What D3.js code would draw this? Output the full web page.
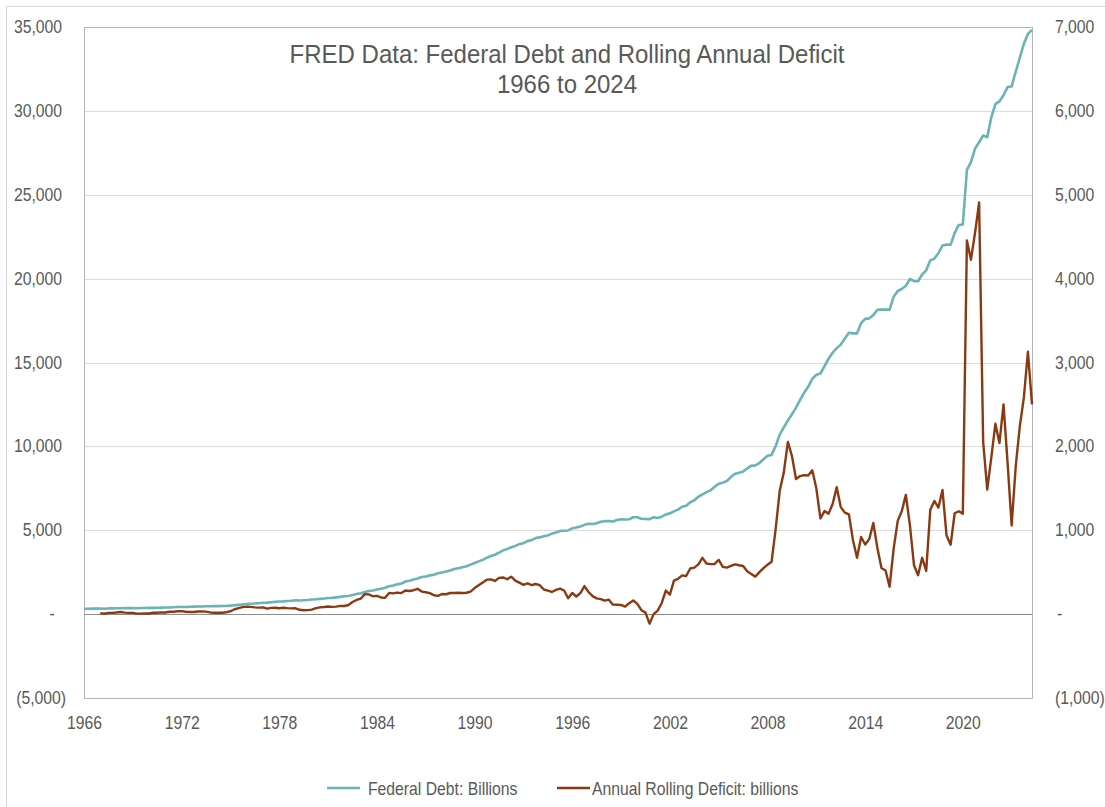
<!DOCTYPE html>
<html>
<head>
<meta charset="utf-8">
<script src="https://cdn.jsdelivr.net/npm/d3@7"></script>
<style>
body{margin:0;background:#fff;}
text{font-family:"Liberation Sans",Arial,sans-serif;fill:#595959;}
</style>
</head>
<body>
<svg id="chart" width="1105" height="807"></svg>
<script>
// quarterly values, debt from 1966 Q1, deficit from 1967 Q1 (billions)
var debtStart = 1966;
var debt = [
  320, 318, 325, 330,   330, 322, 340, 345,   350, 348, 358, 360,   365, 354, 364, 368,
  372, 370, 381, 389,   391, 398, 410, 424,   427, 427, 436, 449,   458, 458, 466, 469,
  475, 475, 483, 492,   509, 533, 554, 576,   599, 620, 635, 653,   680, 685, 709, 729,
  750, 761, 780, 797,   820, 813, 827, 845,   873, 884, 908, 930,   964, 971, 998, 1028,
  1061, 1080, 1142, 1197,   1245, 1318, 1377, 1410,   1463, 1517, 1572, 1663,   1710, 1774, 1823, 1945,
  1986, 2059, 2125, 2214,   2247, 2310, 2350, 2432,   2487, 2547, 2602, 2684,   2741, 2799, 2857, 2953,
  3052, 3143, 3233, 3364,   3465, 3538, 3665, 3801,   3881, 3984, 4065, 4177,   4230, 4352, 4411, 4536,
  4575, 4646, 4692, 4800,   4864, 4951, 4974, 4989,   5117, 5161, 5225, 5323,   5381, 5376, 5413, 5502,
  5542, 5548, 5526, 5614,   5651, 5638, 5656, 5776,   5773, 5685, 5674, 5662,   5773, 5727, 5807, 5943,
  6006, 6126, 6228, 6405,   6460, 6670, 6783, 6998,   7131, 7274, 7379, 7596,   7777, 7837, 7933, 8170,
  8371, 8420, 8507, 8680,   8849, 8867, 9008, 9229,   9437, 9492, 10025, 10700,   11127, 11545, 11910, 12311,
  12773, 13202, 13562, 14025,   14270, 14343, 14790, 15223,   15582, 15856, 16066, 16433,   16771, 16738, 16738, 17352,
  17601, 17632, 17824, 18141,   18152, 18152, 18151, 18922,   19264, 19381, 19573, 19977,   19846, 19845, 20245, 20493,
  21090, 21195, 21516, 21974,   22027, 22023, 22719, 23201,   23225, 26477, 26945, 27748,   28132, 28529, 28429, 29617,
  30401, 30569, 30929, 31420,   31458, 32332, 33167, 34001,   34587, 34832
];

var deficitStart = 1967;
var deficit = [
  10, 4, 15, 15,   20, 26, 18, 15,   15, 6, 6, 8,   7, 16, 17, 21,
  19, 28, 29, 35,   36, 29, 26, 25,   31, 31, 30, 20,   17, 17, 17, 23,
  34, 58, 71, 84,   90, 87, 81, 77,   81, 65, 74, 76,   70, 76, 71, 68,
  70, 52, 47, 48,   53, 71, 81, 85,   91, 87, 90, 98,   97, 109, 144, 169,
  184, 238, 235, 213,   218, 199, 195, 253,   247, 257, 251, 282,   276, 285, 302, 269,
  261, 251, 225, 218,   240, 237, 252, 252,   254, 252, 255, 269,   311, 344, 376, 411,
  413, 395, 432, 437,   416, 446, 400, 376,   349, 368, 346, 359,   345, 294, 281, 264,
  289, 305, 282, 189,   253, 210, 251, 334,   264, 215, 188, 179,   161, 172, 113, 112,
  109, 90, 130, 162,   122, 47, 18, -114,   0, 42, 133, 281,   233, 399, 421, 462,
  454, 544, 555, 593,   671, 604, 596, 598,   646, 563, 554, 574,   594, 583, 574, 510,
  478, 447, 501, 549,   588, 625, 1017, 1471,   1690, 2053, 1885, 1611,   1646, 1657, 1652, 1714,
  1497, 1141, 1228, 1198,   1312, 1513, 1276, 1210,   1189, 882, 672, 919,   830, 894, 1086, 789,
  551, 520, 327, 781,   1112, 1229, 1422, 1055,   582, 464, 672, 516,   1244, 1350, 1271, 1481,
  937, 828, 1203, 1227,   1198, 4454, 4226, 4547,   4907, 2052, 1484, 1869,   2269, 2040, 2500, 1803,
  1057, 1763, 2238, 2581,   3129, 2500
];

var yearTicks = [1966, 1972, 1978, 1984, 1990, 1996, 2002, 2008, 2014, 2020];
var leftTicks = [-5000, 0, 5000, 10000, 15000, 20000, 25000, 30000, 35000];
var rightTicks = [-1000, 0, 1000, 2000, 3000, 4000, 5000, 6000, 7000];

var titleLines = ["FRED Data: Federal Debt and Rolling Annual Deficit", "1966 to 2024"];
var seriesNames = ["Federal Debt: Billions", "Annual Rolling Deficit: billions"];
var seriesColors = ["#6ab3b6", "#8a3a12"];

var svg = d3.select("#chart");
var plotL = 84, plotR = 1032, plotT = 27, plotB = 698;

var x = d3.scaleLinear().domain([1966, 2024.25]).range([plotL, plotR]);
var yL = d3.scaleLinear().domain([-5000, 35000]).range([plotB, plotT]);
var yR = d3.scaleLinear().domain([-1000, 7000]).range([plotB, plotT]);

// the picture's font is a bit narrower than Liberation Sans
function squeeze(k){
    return function(sel){
        sel.each(function(){
            var t = d3.select(this);
            var tx = +t.attr("x") || 0;
            t.attr("x", tx / k).attr("transform", "scale(" + k + ",1)");
        });
    };
}

// outer frame
svg.append("rect")
    .attr("x", 6.5).attr("y", 6.5)
    .attr("width", 1120).attr("height", 820)
    .attr("fill", "none").attr("stroke", "#d9d9d9");

// gridlines
svg.append("g").selectAll("line")
    .data(leftTicks.filter(function(d){ return d > -5000 && d !== 0; }))
    .enter().append("line")
    .attr("x1", plotL).attr("x2", plotR)
    .attr("y1", function(d){ return Math.round(yL(d)) + 0.5; })
    .attr("y2", function(d){ return Math.round(yL(d)) + 0.5; })
    .attr("stroke", "#dcdcdc");

// plot border
svg.append("rect")
    .attr("x", plotL + 0.5).attr("y", plotT + 0.5)
    .attr("width", plotR - plotL).attr("height", plotB - plotT)
    .attr("fill", "none").attr("stroke", "#b5b5b5");

// zero line
svg.append("line")
    .attr("x1", plotL).attr("x2", plotR)
    .attr("y1", Math.round(yL(0)) + 0.5).attr("y2", Math.round(yL(0)) + 0.5)
    .attr("stroke", "#8c8c8c");

function fmt(d){
    if(d === 0) return "-";
    if(d < 0) return "(" + d3.format(",")(-d) + ")";
    return d3.format(",")(d);
}

// left axis
var gL = svg.append("g")
    .attr("transform", "translate(" + plotL + ",0)")
    .call(d3.axisLeft(yL).tickValues(leftTicks).tickSize(0).tickPadding(22).tickFormat(fmt));
gL.select(".domain").remove();
gL.selectAll("text")
    .attr("x", function(d){ return d < 0 ? -18 : (d === 0 ? -32 : -22); })
    .style("text-anchor", function(d){ return d === 0 ? "middle" : "end"; });

// right axis
var gR = svg.append("g")
    .attr("transform", "translate(" + plotR + ",0)")
    .call(d3.axisRight(yR).tickValues(rightTicks).tickSize(0).tickPadding(23).tickFormat(fmt));
gR.select(".domain").remove();
gR.selectAll("text").attr("x", function(d){ return d === 0 ? 25 : 23; });

// bottom axis
var gX = svg.append("g")
    .attr("transform", "translate(0," + plotB + ")")
    .call(d3.axisBottom(x).tickValues(yearTicks).tickSize(0).tickPadding(19).tickFormat(d3.format("d")));
gX.select(".domain").remove();

svg.selectAll(".tick text")
    .style("font-family", '"Liberation Sans",Arial,sans-serif')
    .style("font-size", "17.5px")
    .attr("fill", "#595959")
    .call(squeeze(0.9));

// series
var debtLine = d3.line()
    .x(function(d, i){ return x(debtStart + i / 4); })
    .y(function(d){ return yL(d); });
var defLine = d3.line()
    .x(function(d, i){ return x(deficitStart + i / 4); })
    .y(function(d){ return yR(d); });

svg.append("path")
    .datum(debt)
    .attr("d", debtLine)
    .attr("fill", "none")
    .attr("stroke", seriesColors[0])
    .attr("stroke-width", 2.6)
    .attr("stroke-linejoin", "round");

svg.append("path")
    .datum(deficit)
    .attr("d", defLine)
    .attr("fill", "none")
    .attr("stroke", seriesColors[1])
    .attr("stroke-width", 2.4)
    .attr("stroke-linejoin", "round");

// title
var tY = [63, 93];
titleLines.forEach(function(s, i){
    svg.append("text")
        .attr("x", 567).attr("y", tY[i])
        .style("text-anchor", "middle")
        .style("font-size", "25px")
        .text(s)
        .call(squeeze(0.96));
});

// legend
var legX = [327, 557], legTx = [368, 592];
seriesNames.forEach(function(s, i){
    svg.append("line")
        .attr("x1", legX[i]).attr("x2", legX[i] + 33)
        .attr("y1", 788).attr("y2", 788)
        .attr("stroke", seriesColors[i]).attr("stroke-width", 2.6);
    svg.append("text")
        .attr("x", legTx[i]).attr("y", 795)
        .style("font-size", "17.5px")
        .text(s)
        .call(squeeze(0.9));
});
</script>
</body>
</html>
